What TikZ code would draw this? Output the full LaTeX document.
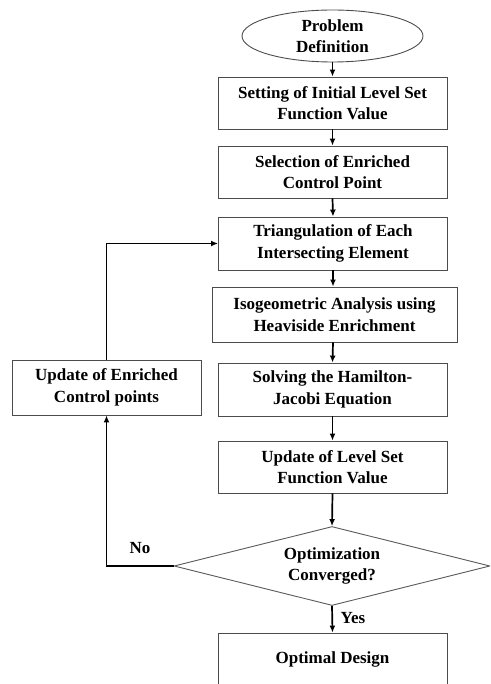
\documentclass[tikz,border=0pt]{standalone}
\usepackage{fontspec}
\setmainfont{Liberation Serif}
\usetikzlibrary{shapes.geometric,arrows.meta}
\begin{document}
\begin{tikzpicture}[x=1pt,y=-1pt,
  every node/.style={font=\bfseries\fontsize{17}{21.5}\selectfont,align=center,inner sep=0pt},
  stepbox/.style={draw=black!70,line width=0.9pt,rectangle,minimum width=229pt,minimum height=52pt},
  startnode/.style={draw=black!70,line width=0.9pt,ellipse,minimum width=181pt,minimum height=52pt},
  decide/.style={draw=black!65,line width=0.9pt,diamond,aspect=4,minimum width=316pt,minimum height=79pt},
  flow/.style={draw=black,line width=1.7pt,-{Latex[length=7pt,width=6pt]}},
  lbl/.style={font=\bfseries\fontsize{17}{21.5}\selectfont}]
\useasboundingbox (0,0) rectangle (490,684);
\clip (0,0) rectangle (490,684);
\node[startnode] (pd) at (332.5,36) {Problem\\Definition};
\node[stepbox] (b1) at (332.5,103) {Setting of Initial Level Set\\Function Value};
\node[stepbox] (b2) at (332.5,172) {Selection of Enriched\\Control Point};
\node[stepbox,minimum height=53pt] (b3) at (333,243.5) {Triangulation of Each\\Intersecting Element};
\node[stepbox,minimum width=245pt,minimum height=55pt] (b4) at (334.5,314.5) {Isogeometric Analysis using\\Heaviside Enrichment};
\node[stepbox,minimum height=53pt] (b5) at (332.5,389.5) {Solving the Hamilton-\\Jacobi Equation};
\node[stepbox] (b6) at (332.5,467) {Update of Level Set\\Function Value};
\node[decide] (dia) at (332,566) {Optimization\\Converged?};
\node[stepbox] (opt) at (332.5,659) {Optimal Design};
\node[stepbox,minimum width=189pt,minimum height=55pt] (upd) at (106.5,387.5) {Update of Enriched\\Control points};
\draw[flow] (pd.south) -- (b1.north);
\draw[flow] (b1.south) -- (b2.north);
\draw[flow] (b2.south) -- (b3.north);
\draw[flow] (b3.south) -- (b3.south |- b4.north);
\draw[flow] (b3.south |- b4.south) -- (b5.north);
\draw[flow] (b5.south) -- (b6.north);
\draw[flow] (b6.south) -- (dia.north);
\draw[flow] (dia.south) -- (opt.north);
\draw[flow] (dia.west) -| (upd.south);
\draw[flow] (upd.north) |- (b3.west);
\node[lbl] (no) at (140,548) {No};
\node[lbl] (yes) at (353,618) {Yes};
\end{tikzpicture}
\end{document}
